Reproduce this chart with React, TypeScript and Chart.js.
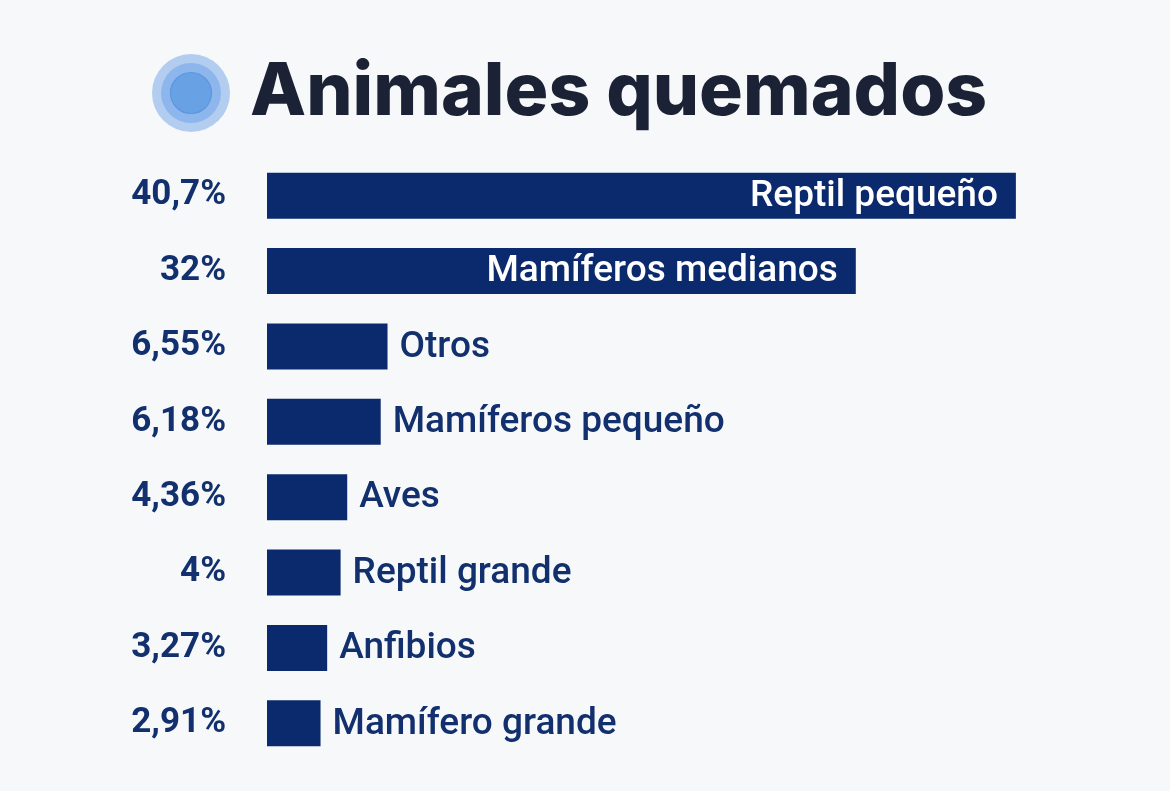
import { useEffect, useRef } from "react";
import { Chart, registerables } from "chart.js";

Chart.register(...registerables);

const titleText = "Animales quemados";
const categories = [
  "Reptil pequeño",
  "Mamíferos medianos",
  "Otros",
  "Mamíferos pequeño",
  "Aves",
  "Reptil grande",
  "Anfibios",
  "Mamífero grande",
];
const values = [40.7, 32, 6.55, 6.18, 4.36, 4, 3.27, 2.91];
const valueLabels = values.map((v) => String(v).replace(".", ",") + "%");

const NAVY = "#0b2a6e";
const TEXT_NAVY = "#12306d";
const BG = "#f7f8fa";

const decorPlugin = {
  id: "decor",
  afterDraw(chart: any) {
    const ctx = chart.ctx;
    ctx.save();
    const cx = 191;
    const cy = 93;
    ctx.beginPath();
    ctx.arc(cx, cy, 39, 0, Math.PI * 2);
    ctx.fillStyle = "#b3cdf0";
    ctx.fill();
    ctx.beginPath();
    ctx.arc(cx, cy, 30, 0, Math.PI * 2);
    ctx.fillStyle = "#8db7ec";
    ctx.fill();
    ctx.beginPath();
    ctx.arc(cx, cy, 20.5, 0, Math.PI * 2);
    ctx.fillStyle = "#68a2e5";
    ctx.fill();
    ctx.lineWidth = 1.2;
    ctx.strokeStyle = "#5b97df";
    ctx.stroke();
    ctx.font = "800 73px Inter";
    ctx.fillStyle = "#1b2236";
    ctx.textAlign = "left";
    ctx.textBaseline = "alphabetic";
    ctx.fillText(titleText, 250, 115);
    ctx.restore();
  },
  afterDatasetsDraw(chart: any) {
    const ctx = chart.ctx;
    const meta = chart.getDatasetMeta(0);
    ctx.save();
    ctx.font = "500 37px Roboto";
    ctx.textBaseline = "middle";
    meta.data.forEach((bar: any, i: number) => {
      const { x, y, base } = bar.getProps(["x", "y", "base"], true);
      const label = categories[i];
      if (x - base > 300) {
        ctx.fillStyle = "#ffffff";
        ctx.textAlign = "right";
        ctx.fillText(label, x - 18, y + 1);
      } else {
        ctx.fillStyle = TEXT_NAVY;
        ctx.textAlign = "left";
        ctx.fillText(label, x + 12, y + 1);
      }
    });
    ctx.restore();
  },
};

export default function App() {
  const ref = useRef<HTMLCanvasElement | null>(null);
  useEffect(() => {
    if (!ref.current) return;
    const chart = new Chart(ref.current, {
      type: "bar",
      data: {
        labels: categories,
        datasets: [
          {
            data: values,
            backgroundColor: NAVY,
            borderWidth: 0,
            barPercentage: 1,
            categoryPercentage: 0.61,
          },
        ],
      },
      options: {
        indexAxis: "y",
        animation: false,
        responsive: true,
        maintainAspectRatio: false,
        devicePixelRatio: 1,
        layout: { padding: { left: 0, right: 75, top: 158, bottom: 30 } },
        plugins: {
          legend: { display: false },
          tooltip: { enabled: false },
          title: { display: false },
        },
        scales: {
          x: { display: false, min: 0, max: 45 },
          y: {
            grid: { display: false, drawTicks: false },
            border: { display: false },
            afterFit: (scale: any) => {
              scale.width = 267;
              scale.paddingTop = 0;
              scale.paddingBottom = 0;
            },
            ticks: {
              padding: 41,
              color: TEXT_NAVY,
              font: { family: "Roboto", weight: "bold", size: 35 },
              callback: (_v: any, i: number) => valueLabels[i],
            },
          },
        },
      },
      plugins: [decorPlugin],
    });
    return () => chart.destroy();
  }, []);
  return (
    <div
      style={{
        position: "fixed",
        left: 0,
        top: 0,
        width: 1170,
        height: 791,
        background: BG,
      }}
    >
      <div style={{ position: "relative", width: 1170, height: 791 }}>
        <canvas ref={ref} />
      </div>
    </div>
  );
}
